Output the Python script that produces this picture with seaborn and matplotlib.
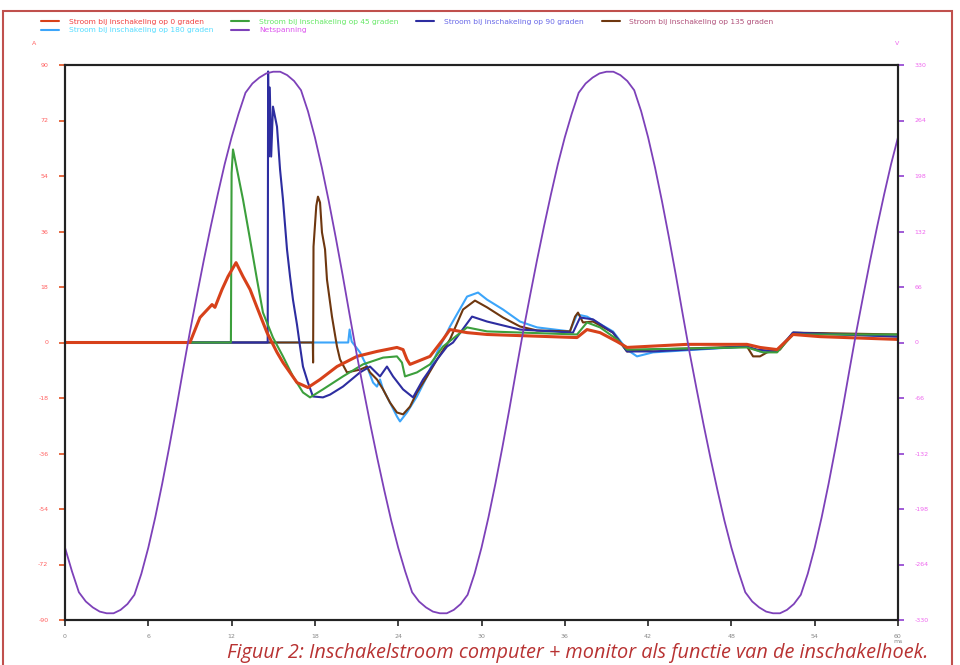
import matplotlib
matplotlib.use('Agg')
import matplotlib.pyplot as plt
import numpy as np
import pandas as pd
import seaborn as sns
from matplotlib.lines import Line2D
from matplotlib.patches import Rectangle

# tijd in ms, stroom in A, spanning in V
t_net = [k * 0.5 for k in range(121)]
u_net = [-244, -272, -297, -308, -315, -320, -322, -322, -318, -311,
         -300, -275, -244, -208, -168, -125, -80, -33,
         13, 56, 98, 138, 176, 212, 244, 272, 297, 308,
         315, 320, 322, 322, 318, 311, 300, 275, 244, 208, 168, 125, 80, 33,
         -13, -56, -98, -138, -176, -212, -244, -272, -297, -308,
         -315, -320, -322, -322, -318, -311, -300, -275, -244, -208, -168, -125, -80, -33,
         13, 56, 98, 138, 176, 212, 244, 272, 297, 308,
         315, 320, 322, 322, 318, 311, 300, 275, 244, 208, 168, 125, 80, 33,
         -13, -56, -98, -138, -176, -212, -244, -272, -297, -308,
         -315, -320, -322, -322, -318, -311, -300, -275, -244, -208, -168, -125, -80, -33,
         13, 56, 98, 138, 176, 212, 244]

t_0deg = [0, 9.0, 9.72, 10.59, 10.8, 11.31, 11.74, 12.32, 12.82, 13.33,
          13.83, 14.55, 15.27, 15.7, 16.71, 17.5, 18.37, 19.59, 21.03, 22.47,
          23.91, 24.35, 24.63, 24.85, 25.35, 26.29, 27.23, 27.73, 28.96, 30.4,
          36.88, 37.6, 38.54, 39.76, 40.48, 44.8, 49.12, 50.06, 51.29, 52.44,
          54.38, 60]
i_0deg = [0, 0, 8.1, 12.3, 11.4, 17.2, 21.4, 25.9, 21.4, 17.2,
          11.4, 3.2, -3.2, -6.5, -13.0, -14.6, -12.0, -7.8, -4.5, -2.9,
          -1.6, -2.3, -5.5, -7.1, -6.2, -4.5, 1.0, 4.2, 3.2, 2.6,
          1.6, 4.2, 3.2, 0.3, -1.6, -0.6, -0.6, -1.6, -2.3, 2.6,
          1.9, 1.0]

t_45deg = [0, 11.95, 12.0, 12.1, 12.39, 12.82, 13.33, 13.83, 14.26, 14.98,
           15.7, 16.42, 17.14, 17.65, 18.58, 20.02, 21.46, 22.91, 23.91, 24.27,
           24.49, 25.35, 26.29, 27.23, 28.96, 30.4, 36.88, 37.6, 38.54, 39.76,
           40.48, 49.12, 50.28, 51.29, 52.44, 60]
i_45deg = [0, 0, 55.0, 62.6, 56.1, 46.4, 33.4, 20.4, 9.7, 1.6,
           -4.5, -11.0, -16.2, -17.8, -15.2, -11.0, -7.1, -4.9, -4.5, -6.5,
           -11.0, -9.7, -7.1, -1.3, 4.9, 3.6, 2.6, 6.5, 4.9, 1.0,
           -2.3, -1.6, -3.2, -3.2, 2.6, 2.6]

t_90deg = [0, 14.6, 14.63, 14.68, 14.75, 14.85, 14.98, 15.27, 15.49, 15.7,
           15.99, 16.21, 16.42, 16.71, 16.93, 17.14, 17.5, 17.86, 18.58, 19.09,
           20.02, 21.25, 21.97, 22.69, 23.19, 23.63, 24.35, 25.07, 25.79, 26.8,
           27.52, 27.95, 29.32, 30.4, 32.77, 36.59, 37.1, 38.03, 39.47, 40.48,
           42.35, 49.12, 49.84, 51.29, 52.44, 60]
i_90deg = [0, 0, 87.9, 60.3, 82.7, 60.3, 76.5, 70.0, 56.1, 46.4,
           30.2, 21.4, 13.9, 5.8, -1.3, -7.8, -13.0, -17.5, -17.8, -16.9,
           -14.3, -9.7, -7.8, -11.0, -7.8, -11.0, -15.2, -17.8, -12.0, -5.5,
           -1.3, 0, 8.4, 6.8, 4.2, 3.2, 8.1, 7.5, 3.2, -2.9,
           -2.9, -1.3, -2.3, -2.9, 3.2, 1.9]

t_135deg = [0, 17.85, 17.87, 17.9, 18.1, 18.22, 18.37, 18.51, 18.73, 18.87,
            19.23, 19.59, 19.81, 20.31, 21.25, 21.75, 21.97, 22.47, 22.91, 23.41,
            23.91, 24.35, 24.85, 25.35, 26.08, 26.8, 27.73, 28.67, 29.53, 30.4,
            31.55, 32.77, 34.0, 36.37, 36.74, 36.95, 37.31, 38.03, 39.47, 40.48,
            42.35, 49.12, 49.34, 49.56, 50.06, 50.57, 51.5, 52.44, 60]
i_135deg = [0, 0, -6.5, 31.1, 44.3, 47.3, 45.4, 35.7, 30.2, 20.4,
            8.4, -1.3, -5.5, -9.7, -8.8, -7.8, -9.7, -12.0, -15.2, -19.5,
            -22.7, -23.3, -20.8, -16.2, -11.0, -5.5, 1.0, 10.7, 13.6, 11.4,
            8.1, 5.2, 3.9, 3.6, 8.4, 9.7, 6.5, 6.8, 3.2, -2.9,
            -2.3, -1.3, -2.9, -4.5, -4.5, -3.2, -2.3, 3.2, 2.6]

t_180deg = [0, 20.4, 20.5, 20.65, 21.25, 21.75, 22.19, 22.47, 22.69, 22.91,
            23.41, 23.91, 24.13, 24.63, 25.35, 26.08, 26.8, 27.73, 28.96, 29.75,
            30.4, 31.55, 32.77, 34.0, 36.37, 36.88, 37.6, 39.47, 40.48, 41.2,
            42.35, 49.12, 50.06, 51.29, 52.44, 60]
i_180deg = [0, 0, 4.2, 0.3, -3.2, -7.8, -13.0, -14.3, -12.0, -15.2,
            -19.5, -24.0, -25.6, -22.7, -17.5, -11.0, -3.2, 5.2, 14.9, 16.2,
            13.9, 10.7, 6.8, 4.9, 3.6, 9.1, 8.4, 3.6, -2.3, -4.5,
            -3.2, -1.3, -2.9, -2.6, 3.2, 1.9]

i_ticks = [-90, -72, -54, -36, -18, 0, 18, 36, 54, 72, 90]
u_ticks = [-330, -264, -198, -132, -66, 0, 66, 132, 198, 264, 330]
t_ticks = [0, 6, 12, 18, 24, 30, 36, 42, 48, 54, 60]

# (label, t, i, lijnkleur, tekstkleur, lijndikte)
series = {
    '0': ('Stroom bij inschakeling op 0 graden', t_0deg, i_0deg, '#d7411a', '#f04040', 2.2),
    '45': ('Stroom bij inschakeling op 45 graden', t_45deg, i_45deg, '#3c9f3c', '#66e866', 1.5),
    '90': ('Stroom bij inschakeling op 90 graden', t_90deg, i_90deg, '#2d2da0', '#6868e8', 1.5),
    '135': ('Stroom bij inschakeling op 135 graden', t_135deg, i_135deg, '#6e370f', '#b0507a', 1.5),
    '180': ('Stroom bij inschakeling op 180 graden', t_180deg, i_180deg, '#3ca5fa', '#55ddff', 1.5),
}
net_color, net_text = '#7d41b9', '#dd55ee'

sns.set_style('white')
plt.rcParams['font.family'] = ['DejaVu Sans']

fig = plt.figure(figsize=(9.6, 6.65), dpi=100)
ax = fig.add_axes([65 / 960, 45 / 665, 833 / 960, 555 / 665])

# laatst getekende lijn ligt bovenop: rood boven, lichtblauw onder
for key in ['180', '135', '90', '45', '0']:
    label, t, i, c, _, lw = series[key]
    sns.lineplot(x=t, y=i, ax=ax, color=c, lw=lw, sort=False, estimator=None)

ax2 = ax.twinx()
sns.lineplot(x=t_net, y=u_net, ax=ax2, color=net_color, lw=1.3, sort=False, estimator=None)

ax.set_xlim(0, 60)
ax.set_ylim(-90, 90)
ax2.set_ylim(-330, 330)
ax.set_xticks(t_ticks)
ax.set_xticklabels([str(v) for v in t_ticks])
ax.set_yticks(i_ticks)
ax.set_yticklabels([str(v) for v in i_ticks])
ax2.set_yticks(u_ticks)
ax2.set_yticklabels([str(v) for v in u_ticks])
ax.set_xlabel('')
ax.set_ylabel('')
ax2.set_ylabel('')

ax.tick_params(axis='y', left=True, length=4, width=1.2, color='#e05020',
               labelcolor='#ff6060', labelsize=4.5, pad=8)
ax.tick_params(axis='x', bottom=True, length=4, width=1.2, color='#222222',
               labelcolor='#888888', labelsize=4.5, pad=6)
ax2.tick_params(axis='y', right=True, length=4, width=1.2, color='#9040d0',
                labelcolor='#ee66ee', labelsize=4.5, pad=8)
for a in (ax, ax2):
    for s in a.spines.values():
        s.set_color('#222222')
        s.set_linewidth(1.5)
        s.set_visible(True)

fig.text(0.036, 0.932, 'A', color='#ff6060', fontsize=4.5, ha='center')
fig.text(0.934, 0.932, 'V', color='#ee66ee', fontsize=4.5, ha='center')
fig.text(0.935, 0.036, 'ms', color='#888888', fontsize=4.5, ha='center', va='center')

# legenda: kolomsgewijs gevuld, dus volgorde zo gekozen dat rijen kloppen
order = ['0', '180', '45', None, '90', '135']
handles, labels, tcolors = [], [], []
for key in order:
    if key is None:
        handles.append(Line2D([], [], color=net_color, lw=1.5))
        labels.append('Netspanning')
        tcolors.append(net_text)
    else:
        label, _, _, c, tc, _ = series[key]
        handles.append(Line2D([], [], color=c, lw=1.5))
        labels.append(label)
        tcolors.append(tc)
leg = fig.legend(handles, labels, loc='upper left', bbox_to_anchor=(0.043, 0.972),
                 ncol=4, fontsize=5.4, frameon=False, handlelength=2.4,
                 handletextpad=1.3, columnspacing=2.37, labelspacing=0.3,
                 borderaxespad=0, borderpad=0)
for txt, tc in zip(leg.get_texts(), tcolors):
    txt.set_color(tc)

fig.text(0.967, 0.018,
         'Figuur 2: Inschakelstroom computer + monitor als functie van de inschakelhoek.',
         ha='right', va='center', style='italic', color='#b83232', fontsize=14.3,
         family=['Open Sans', 'DejaVu Sans'])

fig.patches.append(Rectangle((0.003, -0.01), 0.989, 0.993, transform=fig.transFigure,
                             fill=False, ec='#c0504d', lw=1.5))

fig.savefig('out.png', dpi=100)
